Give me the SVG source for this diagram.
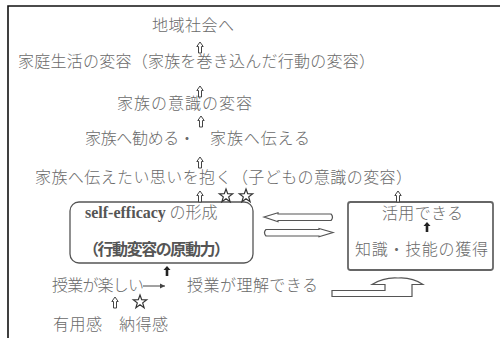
<svg xmlns="http://www.w3.org/2000/svg" width="500" height="338" viewBox="0 0 500 338">
<style>
.t{font-family:"Noto Sans CJK JP","Liberation Serif",serif;font-size:16px;fill:#6a6a6a;font-weight:300}
.b{font-weight:bold;fill:#555}
.lat{font-family:"Liberation Serif","Noto Sans CJK JP",serif;font-weight:bold;fill:#555}
.box{fill:none;stroke:#555;stroke-width:1.3}
.ha{fill:#fff;stroke:#444;stroke-width:1}
.sa{fill:#222;stroke:none}
.star{fill:#fff;stroke:#333;stroke-width:1.2;stroke-linejoin:miter}
.blk{fill:#fff;stroke:#555;stroke-width:1.2}
</style>
<defs>
<path id="ha" d="M0,0 L3.2,4.5 L1.5,4.5 L1.5,11 L-1.5,11 L-1.5,4.5 L-3.2,4.5 Z"/>
<path id="sa" d="M0,0 L3.5,4 L1.3,4 L1.3,10 L-1.3,10 L-1.3,4 L-3.5,4 Z"/>
<path id="star" d="M0,-7 L1.7,-2.3 L6.7,-2.2 L2.7,0.9 L4.1,5.7 L0,2.8 L-4.1,5.7 L-2.7,0.9 L-6.7,-2.2 L-1.7,-2.3 Z"/>
<marker id="ah" markerWidth="6" markerHeight="6" refX="5" refY="3" orient="auto" markerUnits="userSpaceOnUse">
<path d="M0,0.5 L5,3 L0,5.5 Z" fill="#444"/>
</marker>
</defs>
<rect width="500" height="338" fill="#fff"/>
<path d="M8,338 L8,6 L500,6" fill="none" stroke="#111" stroke-width="1.6"/>

<g id="n-chiiki"><text class="t" x="152" y="31" textLength="82">地域社会へ</text></g>
<g id="n-katei"><text class="t" x="18" y="67" textLength="357">家庭生活の変容（家族を巻き込んだ行動の変容）</text></g>
<g id="n-ishiki"><text class="t" x="117" y="109" textLength="135">家族の意識の変容</text></g>
<g id="n-susumeru"><text class="t" x="85" y="144" textLength="110">家族へ勧める・</text></g>
<g id="n-tsutaeru"><text class="t" x="210" y="144" textLength="100">家族へ伝える</text></g>
<g id="n-omoi"><text class="t" x="35" y="183" textLength="377">家族へ伝えたい思いを抱く（子どもの意識の変容）</text></g>
<g id="n-self">
<rect class="box" x="70" y="202" width="183" height="61" rx="9"/>
<text class="t" x="85" y="218"><tspan class="lat">self-efficacy</tspan> の形成</text>
<text class="t b" x="83" y="255" textLength="147">（行動変容の原動力）</text>
</g>
<g id="n-katsuyou">
<rect class="box" x="348" y="202" width="145" height="68" rx="2.5" style="stroke:#666;stroke-width:1.8"/>
<text class="t" x="382" y="219" textLength="81">活用できる</text>
<text class="t" x="355" y="255" textLength="133">知識・技能の獲得</text>
</g>
<g id="n-tanoshii"><text class="t" x="52" y="291" textLength="92">授業が楽しい</text></g>
<g id="n-rikai"><text class="t" x="187" y="291" textLength="131">授業が理解できる</text></g>
<g id="n-kan"><text class="t" x="53" y="330" textLength="115">有用感　納得感</text></g>

<g id="connectors">
<use href="#ha" class="ha" x="200" y="42"/>
<use href="#ha" class="ha" x="200" y="86"/>
<use href="#ha" class="ha" x="201" y="116"/>
<use href="#ha" class="ha" x="200" y="157"/>
<use href="#ha" class="ha" x="200" y="191"/>
<use href="#ha" class="ha" x="398" y="191"/>
<use href="#ha" class="ha" x="115" y="297"/>
<use href="#sa" class="sa" x="427" y="222"/>
<use href="#sa" class="sa" x="167" y="266"/>
<path class="blk" d="M264,217 L278,212.8 L278,214 L331,214 Q334,217 331,220.5 L278,220.5 L278,221.7 Z"/>
<path class="blk" d="M333,232.5 L319,228.5 L319,229.5 L266,229.5 Q263,232.5 266,236 L319,236 L319,236.8 Z"/>
<path class="blk" d="M332,290.5 L385,290.5 L385,284.5 L372,284.5 Q384,277 398,278 Q412,277 423,284.5 L412,284.5 L412,296.5 L332,296.5 Z"/>
<line x1="143" y1="286" x2="165" y2="286" stroke="#444" stroke-width="1" marker-end="url(#ah)"/>
<use href="#star" class="star" x="226" y="196"/>
<use href="#star" class="star" x="246" y="196"/>
<use href="#star" class="star" x="140" y="302"/>
</g>
</svg>
